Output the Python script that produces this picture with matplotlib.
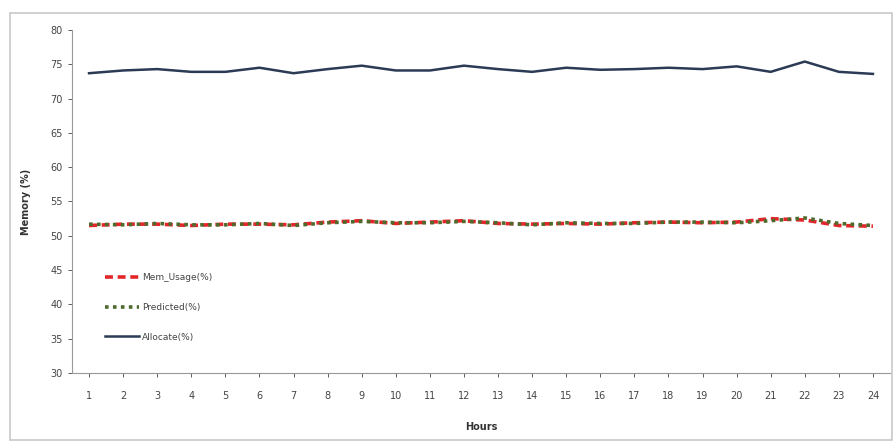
import numpy as np
import matplotlib
matplotlib.use('Agg')
import matplotlib.pyplot as plt
from matplotlib.patches import Rectangle

# Data
hours = list(range(1, 25))
mem_usage = [51.5, 51.7, 51.7, 51.5, 51.7, 51.7, 51.6, 52.0, 52.2, 51.8, 52.0, 52.2,
             51.8, 51.7, 51.8, 51.7, 51.9, 52.0, 51.9, 52.0, 52.5, 52.3, 51.5, 51.4]
predicted = [51.7, 51.6, 51.8, 51.6, 51.6, 51.8, 51.5, 51.9, 52.1, 51.9, 51.9, 52.1,
             51.9, 51.6, 51.9, 51.8, 51.8, 52.0, 52.0, 51.9, 52.2, 52.6, 51.8, 51.5]
allocate = [73.7, 74.1, 74.3, 73.9, 73.9, 74.5, 73.7, 74.3, 74.8, 74.1, 74.1, 74.8,
            74.3, 73.9, 74.5, 74.2, 74.3, 74.5, 74.3, 74.7, 73.9, 75.4, 73.9, 73.6]
y_ticks = list(range(30, 85, 5))

W, H = 895, 445
fig = plt.figure(figsize=(W / 100, H / 100), dpi=100)
fig.patch.set_facecolor('white')

# outer chart border, Excel style
fig.patches.append(Rectangle((10 / W, 5 / H), 882 / W, (H - 18) / H,
                             transform=fig.transFigure, fill=False,
                             edgecolor='#c8c8c8', linewidth=1.2))

# axes box in pixels: left 72, right 890, top 30, bottom 373
ax = fig.add_axes([72 / W, (H - 373) / H, (890 - 72) / W, (373 - 30) / H])

ax.plot(hours, mem_usage, color='#e3262a', linestyle=(0, (2.2, 1.3)),
        linewidth=2.6, label='Mem_Usage(%)')
ax.plot(hours, predicted, color='#4d6b2c', linestyle=(0, (1, 1.2)),
        linewidth=2.6, label='Predicted(%)')
ax.plot(hours, allocate, color='#2b3a55', linewidth=1.8, label='Allocate(%)')

ax.set_xlim(0.5, 24.5)
ax.set_ylim(30, 80)
ax.set_xticks(hours)
ax.set_yticks(y_ticks)
ax.tick_params(axis='both', labelsize=7, colors='#444444', length=3, width=0.6)
ax.tick_params(axis='x', pad=10)

for s in ['top', 'right']:
    ax.spines[s].set_visible(False)
for s in ['left', 'bottom']:
    ax.spines[s].set_color('#999999')
    ax.spines[s].set_linewidth(0.8)

ax.set_xlabel('Hours', fontsize=7, fontweight='bold', color='#333333', labelpad=15)
ax.set_ylabel('Memory (%)', fontsize=7, fontweight='bold', color='#333333', labelpad=14)

ax.legend(loc='upper left', bbox_to_anchor=(0.03, 0.315), frameon=False,
          fontsize=6.5, labelspacing=2.3, handlelength=3.8, handletextpad=0.3,
          labelcolor='#444444')

plt.savefig('out.png', dpi=100)
